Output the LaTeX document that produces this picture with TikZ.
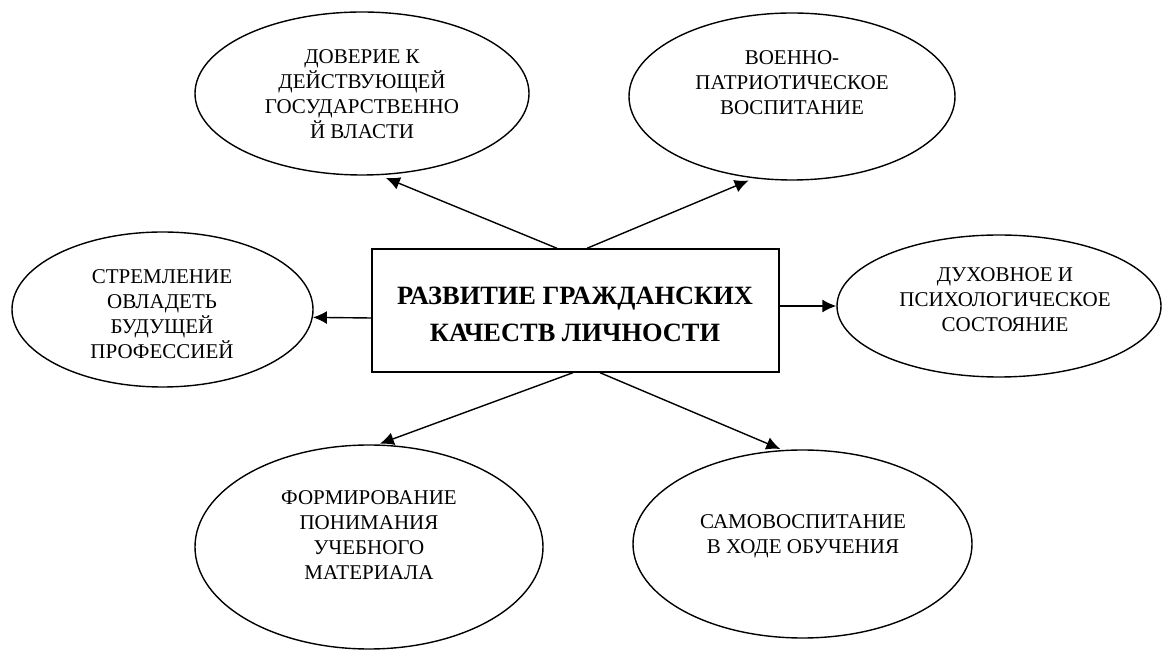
\documentclass[tikz,border=0pt]{standalone}
\usepackage{fontspec}
\setmainfont{Liberation Serif}
\usetikzlibrary{shapes.geometric,arrows.meta}

\begin{document}
\begin{tikzpicture}[x=0.5pt,y=-0.5pt,
  oval/.style={draw,ellipse,line width=0.7pt,inner sep=0pt},
  txt/.style={align=center,inner sep=0pt,font=\fontsize{10.5}{12.5}\selectfont},
  arr/.style={line width=0.7pt,-{Latex[length=7pt,width=6.5pt]}}]
\useasboundingbox (0,0) rectangle (1162,651);

% central box
\node[draw,line width=0.7pt,minimum width=203.5pt,minimum height=61.5pt] (box) at (575.5,310.5) {};
\node[align=center,inner sep=0pt,font=\fontsize{13.2}{18.5}\selectfont\bfseries] (boxtxt)
  at (575,314) {РАЗВИТИЕ ГРАЖДАНСКИХ\\КАЧЕСТВ ЛИЧНОСТИ};

% ovals
\node[oval,minimum width=167pt,minimum height=81.5pt] (dov) at (362,93.5) {};
\node[oval,minimum width=163pt,minimum height=83.5pt] (voen) at (792,96.5) {};
\node[oval,minimum width=150.5pt,minimum height=77.5pt] (strem) at (162.5,309.5) {};
\node[oval,minimum width=162pt,minimum height=71pt] (duh) at (999,306) {};
\node[oval,minimum width=174pt,minimum height=102pt] (form) at (369,547) {};
\node[oval,minimum width=169.5pt,minimum height=94pt] (samo) at (802.5,544) {};

% texts
\node[txt] (dovtxt) at (362,94) {ДОВЕРИЕ К\\ДЕЙСТВУЮЩЕЙ\\ГОСУДАРСТВЕННО\\Й ВЛАСТИ};
\node[txt] (voentxt) at (792,83) {ВОЕННО-\\ПАТРИОТИЧЕСКОЕ\\ВОСПИТАНИЕ};
\node[txt] (stremtxt) at (162,314) {СТРЕМЛЕНИЕ\\ОВЛАДЕТЬ\\БУДУЩЕЙ\\ПРОФЕССИЕЙ};
\node[txt] (duhtxt) at (1005,300) {ДУХОВНОЕ И\\ПСИХОЛОГИЧЕСКОЕ\\СОСТОЯНИЕ};
\node[txt] (formtxt) at (369,535) {ФОРМИРОВАНИЕ\\ПОНИМАНИЯ\\УЧЕБНОГО\\МАТЕРИАЛА};
\node[txt] (samotxt) at (803,536) {САМОВОСПИТАНИЕ\\В ХОДЕ ОБУЧЕНИЯ};

% arrows
\draw[arr,shorten >=3.5pt] ([xshift=-9.25pt]box.north) -- (dov.-78.5);
\draw[arr,shorten >=2.8pt] ([xshift=5.75pt]box.north) -- (voen.245.7);
\draw[arr] ([yshift=-3.75pt]box.west) -- (strem.-3);
\draw[arr] ([yshift=2.25pt]box.east) -- (duh.west);
\draw[arr,shorten >=1pt] ([xshift=-1.25pt]box.south) -- (form.85.6);
\draw[arr,shorten >=1.2pt] ([xshift=12.25pt]box.south) -- (samo.102);
\end{tikzpicture}
\end{document}
